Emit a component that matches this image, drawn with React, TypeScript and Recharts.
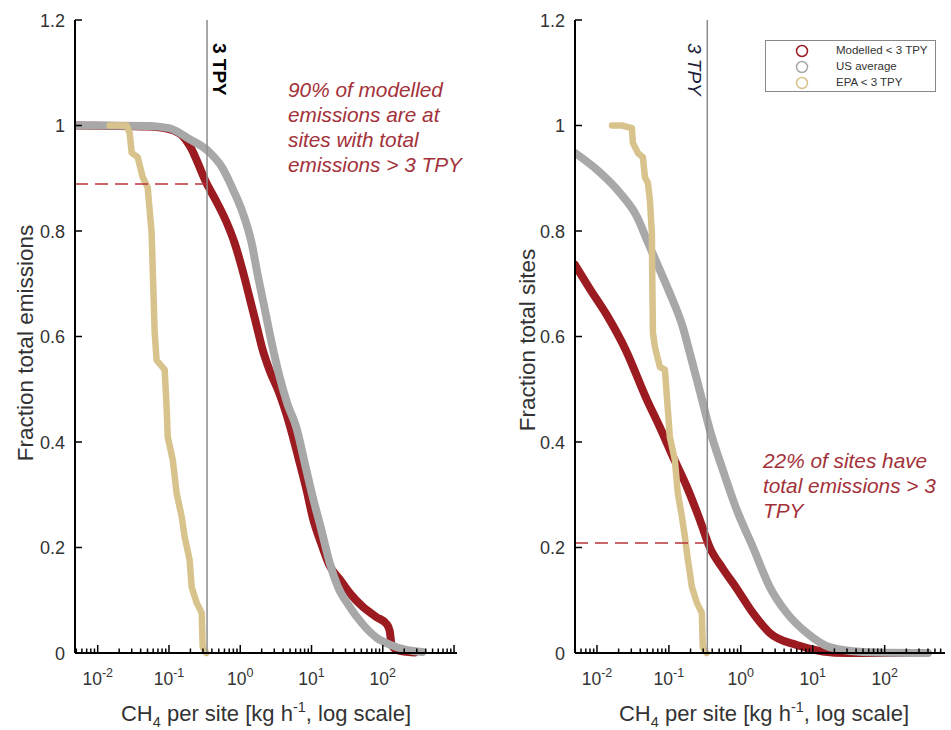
import React from "react";
import { LineChart, Line, XAxis, YAxis, ReferenceLine, Label, Legend } from "recharts";

type Pt = [number, number];

// 3 tonnes per year, in kg/h
const TPY3 = 0.342;

const yTicks = [0, 0.2, 0.4, 0.6, 0.8, 1, 1.2];
const decades = [0.001, 0.01, 0.1, 1, 10, 100, 1000];
const minorSteps = [1, 2, 3, 4, 5, 6, 7, 8, 9];
const labelledDecades = [0.01, 0.1, 1, 10, 100];

const leftDomain: [number, number] = [0.0048, 1100];
const rightDomain: [number, number] = [0.00495, 690];

// left panel: fraction of total emissions
const emisModelled: Pt[] = [
  [0.0048, 1], [0.05, 0.998], [0.1, 0.993], [0.155, 0.98], [0.195, 0.962], [0.338, 0.89],
  [0.467, 0.855], [0.645, 0.816], [0.834, 0.777], [1.08, 0.725], [1.355, 0.673], [1.7, 0.62],
  [2.06, 0.575], [2.58, 0.536], [3.57, 0.491], [4.47, 0.452], [5.43, 0.412], [6.81, 0.361],
  [8.53, 0.309], [10.4, 0.257], [13.9, 0.205], [17.9, 0.166], [24.8, 0.14], [34.2, 0.114],
  [52, 0.088], [82, 0.068], [113, 0.055], [125, 0.042], [133, 0.016], [156, 0.006], [280, 0.001],
];
const emisUS: Pt[] = [
  [0.0048, 1], [0.05, 0.999], [0.1, 0.995], [0.195, 0.974], [0.372, 0.949], [0.566, 0.919],
  [0.782, 0.88], [1.08, 0.835], [1.445, 0.777], [1.75, 0.718], [2.2, 0.653], [2.76, 0.588],
  [3.57, 0.523], [4.62, 0.471], [6.18, 0.426], [8.0, 0.361], [10.4, 0.296], [13.9, 0.231],
  [17.9, 0.172], [23.2, 0.127], [34.2, 0.088], [52, 0.055], [82, 0.029], [125, 0.016],
  [216, 0.006], [360, 0.002],
];
const emisEPA: Pt[] = [
  [0.0147, 1], [0.0255, 1], [0.0281, 0.985], [0.03, 0.948], [0.0364, 0.94], [0.0428, 0.902],
  [0.0502, 0.883], [0.0571, 0.796], [0.059, 0.732], [0.063, 0.607], [0.067, 0.555], [0.087, 0.537],
  [0.093, 0.461], [0.096, 0.41], [0.113, 0.366], [0.128, 0.303], [0.151, 0.258], [0.166, 0.22],
  [0.195, 0.176], [0.208, 0.125], [0.245, 0.095], [0.288, 0.076], [0.297, 0.011], [0.335, 0],
];

// right panel: fraction of total sites
const sitesModelled: Pt[] = [
  [0.00495, 0.736], [0.008, 0.69], [0.0138, 0.64], [0.025, 0.575], [0.0495, 0.48], [0.075, 0.428],
  [0.114, 0.372], [0.178, 0.315], [0.27, 0.252], [0.371, 0.2], [0.562, 0.16], [0.88, 0.122],
  [1.47, 0.076], [2.53, 0.038], [6.0, 0.015], [13.8, 0.003], [29.6, 0], [150, 0], [300, 0],
];
const sitesUS: Pt[] = [
  [0.00495, 0.948], [0.01, 0.916], [0.0209, 0.872], [0.036, 0.827], [0.0495, 0.783], [0.068, 0.739],
  [0.103, 0.682], [0.156, 0.618], [0.196, 0.568], [0.27, 0.496], [0.371, 0.423], [0.562, 0.347],
  [0.88, 0.271], [1.47, 0.201], [2.53, 0.125], [4.35, 0.076], [8.26, 0.038], [17.2, 0.011],
  [49.4, 0.002], [245, 0], [400, 0],
];
const sitesEPA: Pt[] = [
  [0.0162, 1], [0.0222, 1], [0.0306, 0.995], [0.0316, 0.967], [0.037, 0.948], [0.0435, 0.94],
  [0.0464, 0.902], [0.051, 0.891], [0.0544, 0.859], [0.058, 0.796], [0.0585, 0.732], [0.06, 0.607],
  [0.064, 0.58], [0.075, 0.542], [0.088, 0.537], [0.0968, 0.461], [0.103, 0.41], [0.121, 0.366],
  [0.133, 0.303], [0.152, 0.258], [0.167, 0.22], [0.184, 0.176], [0.209, 0.125], [0.245, 0.095],
  [0.287, 0.076], [0.296, 0.011], [0.335, 0],
];

const seriesNames = ["Modelled < 3 TPY", "US average", "EPA < 3 TPY"];
const seriesColors = ["#9c1b20", "#a8a8a8", "#d8c38d"];
const seriesWidths = [8, 8, 6.5];
const seriesCurves: ("monotoneX" | "linear")[] = ["monotoneX", "monotoneX", "linear"];

const font = "'Liberation Sans', Arial, sans-serif";
const annotRed = "#a3313a";

const toData = (pts: Pt[]) => pts.map(([x, y]) => ({ x, y }));

const logTicks = (d: [number, number]) =>
  decades.flatMap((dec) => minorSteps.map((m) => m * dec)).filter((v) => v >= d[0] && v <= d[1]);

const XTick = (props: any) => {
  const { x, y, payload } = props;
  const v = payload.value;
  const lg = Math.log10(v);
  const major = Math.abs(lg - Math.round(lg)) < 1e-6;
  const labelled = major && labelledDecades.some((d) => Math.abs(d - v) < d * 1e-6);
  return (
    <g>
      <line x1={x} x2={x} y1={y} y2={y - (major ? 8 : 4.5)} stroke="#000" strokeWidth={1.5} />
      {labelled && (
        <text x={x} y={y + 32} textAnchor="middle" fontSize={17.5} fill="#333" fontFamily={font}>
          10
          <tspan dy={-8} fontSize={12.5}>{Math.round(lg)}</tspan>
        </text>
      )}
    </g>
  );
};

const YTick = (props: any) => {
  const { x, y, payload } = props;
  return (
    <g>
      <line x1={x} x2={x + 7} y1={y} y2={y} stroke="#000" strokeWidth={1.5} />
      <text x={x - 10} y={y + 6.5} textAnchor="end" fontSize={18} fill="#333" fontFamily={font}>
        {String(payload.value)}
      </text>
    </g>
  );
};

const LegendBox = (props: any) => {
  const items = [...(props.payload || [])].sort(
    (a: any, b: any) => seriesNames.indexOf(a.value) - seriesNames.indexOf(b.value)
  );
  return (
    <div
      style={{
        position: "relative",
        width: 171,
        height: 52,
        border: "1px solid #888",
        boxSizing: "border-box",
        background: "#fff",
        fontFamily: font,
      }}
    >
      {items.map((e: any, i: number) => (
        <div key={e.value} style={{ position: "absolute", left: 0, top: 2 + i * 16, height: 16, width: "100%" }}>
          <svg width={14} height={14} style={{ position: "absolute", left: 29, top: 1 }}>
            <circle cx={7} cy={7} r={5.5} fill="none" stroke={e.color} strokeWidth={1.5} />
          </svg>
          <span style={{ position: "absolute", left: 70, top: 1, fontSize: 11.5, color: "#333", whiteSpace: "nowrap" }}>
            {e.value}
          </span>
        </div>
      ))}
    </div>
  );
};

type PanelProps = {
  width: number;
  yAxisWidth: number;
  marginRight: number;
  domain: [number, number];
  series: Pt[][];
  dashY: number;
  yTitle: string;
  yTitleX: number;
  yTitleY: number;
  xTitleX: number;
  tpyOnLeft: boolean;
  showLegend: boolean;
};

function Panel(p: PanelProps) {
  const ticks = logTicks(p.domain);
  return (
    <LineChart width={p.width} height={730} margin={{ top: 20, right: p.marginRight, bottom: 0, left: 0 }}>
      <XAxis
        type="number"
        dataKey="x"
        scale="log"
        domain={p.domain}
        allowDataOverflow
        ticks={ticks}
        interval={0}
        tick={<XTick />}
        tickSize={0}
        tickMargin={0}
        tickLine={false}
        axisLine={{ stroke: "#000", strokeWidth: 2 }}
        height={77}
      >
        <Label
          content={() => (
            <text x={p.xTitleX} y={721} textAnchor="middle" fontSize={22} fill="#333" fontFamily={font}>
              CH
              <tspan dy={6} fontSize={14.5}>4</tspan>
              <tspan dy={-6}> per site [kg h</tspan>
              <tspan dy={-9} fontSize={14.5}>-1</tspan>
              <tspan dy={9}>, log scale]</tspan>
            </text>
          )}
        />
      </XAxis>
      <YAxis
        type="number"
        domain={[0, 1.2]}
        ticks={yTicks}
        interval={0}
        tick={<YTick />}
        tickSize={0}
        tickMargin={0}
        tickLine={false}
        axisLine={{ stroke: "#000", strokeWidth: 2 }}
        width={p.yAxisWidth}
      >
        <Label
          content={() => (
            <text
              x={p.yTitleX}
              y={p.yTitleY}
              transform={`rotate(-90 ${p.yTitleX} ${p.yTitleY})`}
              textAnchor="middle"
              fontSize={22.5}
              fill="#333"
              fontFamily={font}
            >
              {p.yTitle}
            </text>
          )}
        />
      </YAxis>
      {p.series.map((s, i) => (
        <Line
          key={seriesNames[i]}
          data={toData(s)}
          dataKey="y"
          name={seriesNames[i]}
          type={seriesCurves[i]}
          stroke={seriesColors[i]}
          strokeWidth={seriesWidths[i]}
          strokeLinecap="round"
          strokeLinejoin="round"
          dot={false}
          activeDot={false}
          isAnimationActive={false}
        />
      ))}
      <ReferenceLine
        x={TPY3}
        stroke="#8c8c8c"
        strokeWidth={1.5}
        label={(lp: any) => {
          const vb = lp.viewBox || {};
          const lx = p.tpyOnLeft ? vb.x - 19 : vb.x + 6;
          const ly = vb.y + 23;
          return (
            <text
              x={lx}
              y={ly}
              transform={`rotate(90 ${lx} ${ly})`}
              fontSize={19}
              fontWeight={p.tpyOnLeft ? "normal" : "bold"}
              fontStyle={p.tpyOnLeft ? "italic" : "normal"}
              fill={p.tpyOnLeft ? "#1c1c3a" : "#000"}
              fontFamily={font}
            >
              3 TPY
            </text>
          );
        }}
      />
      <ReferenceLine
        segment={[{ x: p.domain[0], y: p.dashY }, { x: TPY3, y: p.dashY }]}
        stroke="#b8353c"
        strokeWidth={1.5}
        strokeDasharray="13 7"
      />
      {p.showLegend && (
        <Legend
          layout="vertical"
          align="center"
          verticalAlign="middle"
          content={<LegendBox />}
          wrapperStyle={{ left: 285, top: 40, width: 171, height: 52 }}
        />
      )}
    </LineChart>
  );
}

export default function App() {
  return (
    <div style={{ position: "absolute", left: 0, top: 0, width: 951, height: 730, background: "#fff", fontFamily: font }}>
      <div style={{ position: "absolute", left: 0, top: 0 }}>
        <Panel
          width={480}
          yAxisWidth={75}
          marginRight={23}
          domain={leftDomain}
          series={[emisModelled, emisUS, emisEPA]}
          dashY={0.889}
          yTitle="Fraction total emissions"
          yTitleX={33}
          yTitleY={343}
          xTitleX={266}
          tpyOnLeft={false}
          showLegend={false}
        />
      </div>
      <div style={{ position: "absolute", left: 480, top: 0 }}>
        <Panel
          width={471}
          yAxisWidth={95}
          marginRight={6}
          domain={rightDomain}
          series={[sitesModelled, sitesUS, sitesEPA]}
          dashY={0.2085}
          yTitle="Fraction total sites"
          yTitleX={55}
          yTitleY={340}
          xTitleX={284}
          tpyOnLeft={true}
          showLegend={true}
        />
      </div>
      <div
        style={{
          position: "absolute",
          left: 288,
          top: 77,
          fontSize: 20.8,
          lineHeight: "25px",
          fontStyle: "italic",
          color: annotRed,
          whiteSpace: "nowrap",
        }}
      >
        90% of modelled
        <br />
        emissions are at
        <br />
        sites with total
        <br />
        emissions &gt; 3 TPY
      </div>
      <div
        style={{
          position: "absolute",
          left: 763,
          top: 448,
          fontSize: 20.8,
          lineHeight: "25px",
          fontStyle: "italic",
          color: annotRed,
          whiteSpace: "nowrap",
        }}
      >
        22% of sites have
        <br />
        total emissions &gt; 3
        <br />
        TPY
      </div>
    </div>
  );
}
